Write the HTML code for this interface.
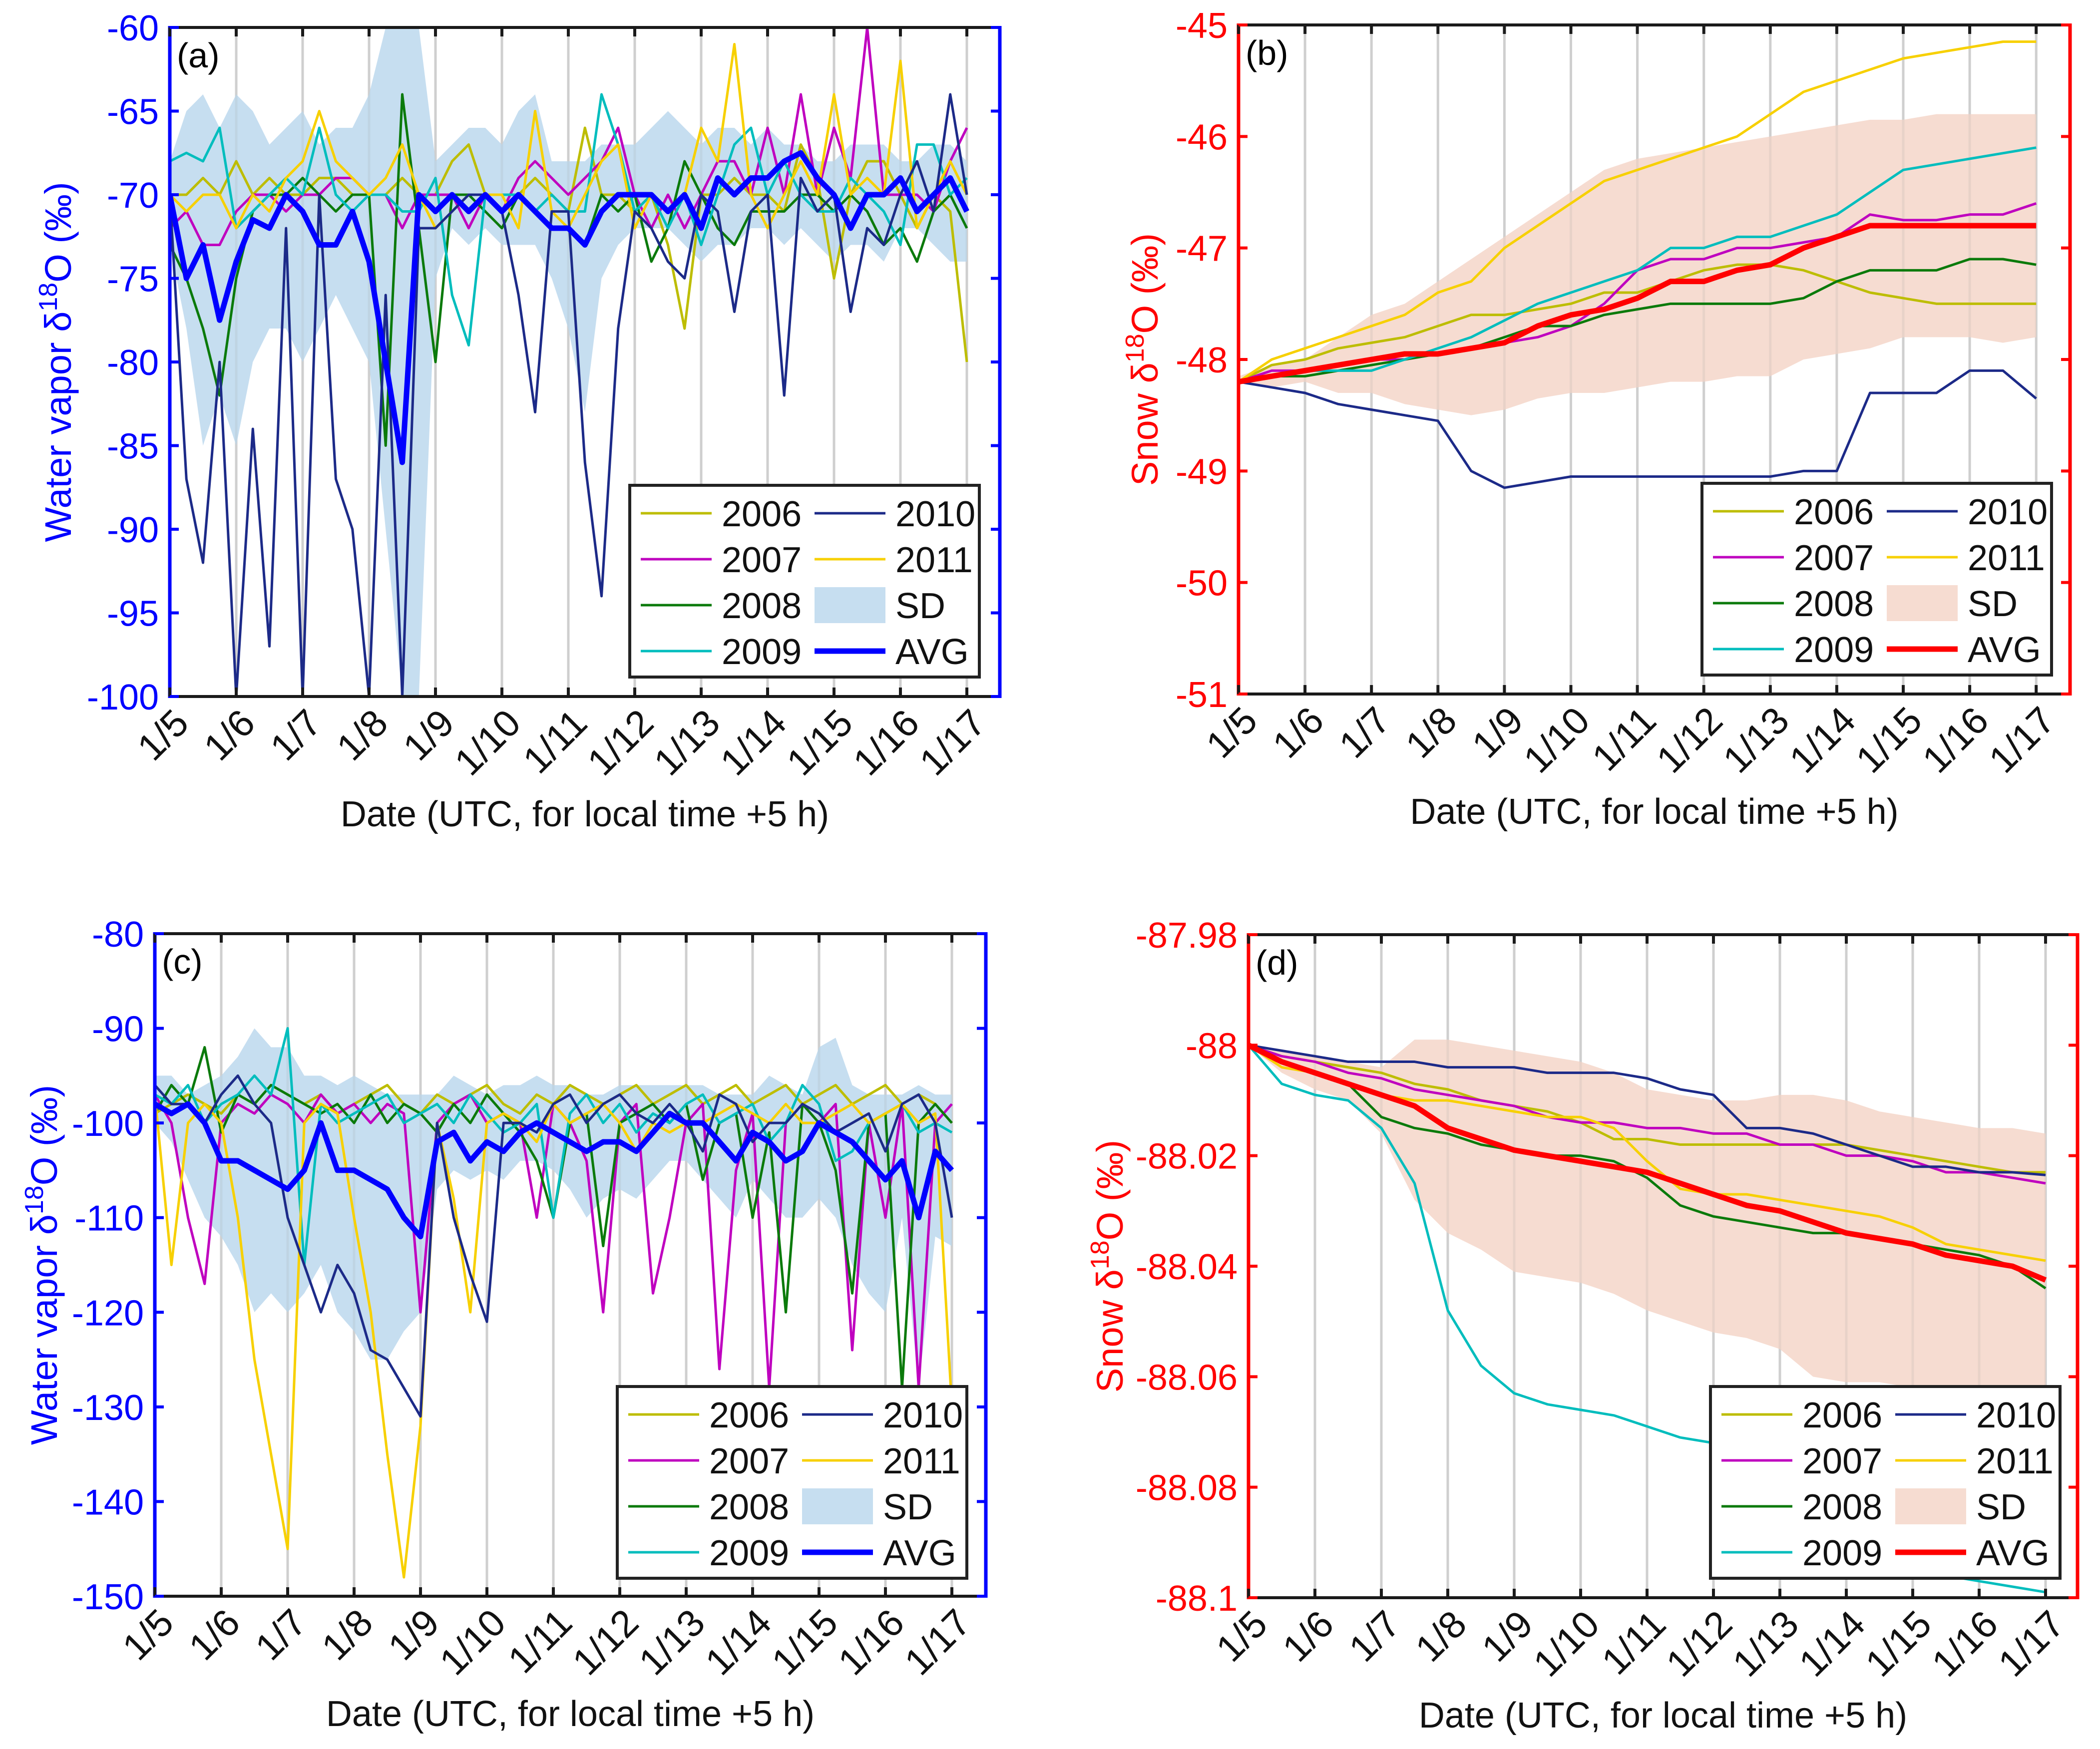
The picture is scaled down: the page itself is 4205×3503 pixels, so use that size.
<!DOCTYPE html>
<html><head><meta charset="utf-8"><style>
html,body{margin:0;padding:0;background:#fff;}
svg{display:block;font-family:"Liberation Sans",Arial,sans-serif;}
</style></head><body>
<svg id="fig" width="4205" height="3503" viewBox="0 0 4205 3503" xmlns="http://www.w3.org/2000/svg"></svg>
<script>
// ---------- data (days since 1/5) ----------
const dayLabels=["1/5","1/6","1/7","1/8","1/9","1/10","1/11","1/12","1/13","1/14","1/15","1/16","1/17"];
const legendYears=["2006","2007","2008","2009","2010","2011"];
// panel a (quarter-day samples)
const aY2006=[-70,-70,-69,-70,-68,-70,-69,-70,-70,-69,-69,-70,-70,-70,-69,-70,-70,-68,-67,-70,-70,-70,-69,-70,-71,-66,-70,-70,-71,-70,-73,-78,-70,-70,-69,-70,-70,-71,-67,-69,-75,-70,-68,-68,-70,-72,-70,-71,-80];
const aY2007=[-72,-71,-73,-73,-71,-70,-70,-71,-70,-70,-69,-69,-70,-70,-72,-70,-70,-70,-72,-70,-71,-69,-68,-69,-70,-69,-68,-66,-70,-72,-70,-72,-70,-68,-68,-70,-66,-70,-64,-70,-66,-69,-60,-70,-70,-70,-71,-68,-66];
const aY2008=[-73,-75,-78,-82,-75,-71,-70,-70,-69,-70,-71,-70,-70,-85,-64,-72,-80,-70,-70,-71,-72,-70,-71,-72,-72,-73,-70,-71,-70,-74,-72,-68,-70,-72,-73,-71,-71,-71,-70,-70,-71,-70,-71,-73,-72,-74,-71,-70,-72];
const aY2009=[-68,-67.5,-68,-66,-72,-71,-70,-69,-70,-66,-70,-71,-70,-70,-71,-71,-69,-76,-79,-70,-70,-70,-71,-70,-71,-71,-64,-67,-71,-70,-72,-70,-73,-70,-67,-66,-70,-68,-70,-71,-71,-69,-70,-71,-73,-67,-67,-70,-69];
const aY2010=[-70,-87,-92,-80,-100,-84,-97,-72,-100,-70,-87,-90,-100,-76,-100,-72,-72,-71,-70,-70,-71,-76,-83,-71,-71,-86,-94,-78,-71,-72,-74,-75,-70,-71,-77,-71,-70,-82,-69,-71,-70,-77,-72,-73,-70,-68,-71,-64,-70];
const aY2011=[-70,-71,-70,-70,-72,-70,-71,-69,-68,-65,-68,-69,-70,-69,-67,-70,-72,-71,-70,-70,-70,-72,-65,-71,-72,-70,-68,-67,-72,-70,-71,-70,-66,-68,-61,-70,-72,-70,-68,-70,-64,-70,-69,-70,-62,-72,-70,-68,-70];
const aAvg=[-70,-75,-73,-77.5,-74,-71.5,-72,-70,-71,-73,-73,-71,-74,-80,-86,-70,-71,-70,-71,-70,-71,-70,-71,-72,-72,-73,-71,-70,-70,-70,-71,-70,-72,-69,-70,-69,-69,-68,-67.5,-69,-70,-72,-70,-70,-69,-71,-70,-69,-71];
const aSdHi=[-68,-65,-64,-66,-64,-65,-67,-66,-65,-67,-66,-66,-64,-60,-60,-60,-68,-67,-66,-66,-67,-65,-64,-68,-68,-68,-67,-67,-67,-66,-65,-66,-67,-66,-66,-67,-66,-67,-67,-68,-68,-67,-67,-67,-68,-68,-67,-67,-68];
const aSdLo=[-73,-78,-85,-82,-85,-80,-78,-78,-80,-78,-76,-78,-80,-90,-100,-100,-75,-72,-73,-72,-73,-73,-73,-75,-78,-83,-75,-73,-72,-72,-72,-73,-74,-73,-73,-72,-72,-73,-72,-73,-74,-73,-73,-74,-72,-72,-73,-74,-74];
// panel c (quarter-day samples)
const cY2006=[-99,-98,-97,-98,-99,-97,-98,-96,-97,-98,-97,-99,-98,-97,-96,-98,-99,-97,-98,-97,-96,-98,-99,-97,-98,-96,-97,-98,-97,-96,-98,-97,-96,-98,-97,-96,-98,-97,-96,-98,-97,-96,-98,-97,-96,-98,-97,-98,-100];
const cY2007=[-97,-100,-110,-117,-100,-98,-99,-97,-98,-100,-97,-99,-98,-100,-98,-99,-120,-100,-98,-97,-100,-99,-100,-110,-98,-100,-104,-120,-100,-98,-118,-110,-100,-98,-126,-105,-99,-128,-100,-98,-100,-98,-124,-100,-110,-98,-128,-100,-98];
const cY2008=[-99,-96,-98,-92,-101,-97,-98,-96,-97,-98,-99,-98,-100,-97,-100,-98,-99,-101,-98,-100,-97,-99,-101,-104,-110,-100,-99,-113,-100,-99,-98,-100,-98,-106,-100,-99,-110,-101,-120,-98,-100,-105,-118,-100,-99,-128,-100,-98,-100];
const cY2009=[-97,-98,-96,-100,-98,-97,-95,-97,-90,-115,-98,-100,-99,-98,-97,-100,-99,-98,-100,-97,-99,-101,-100,-98,-110,-99,-97,-100,-98,-101,-99,-100,-98,-97,-100,-99,-98,-102,-100,-96,-98,-104,-103,-100,-99,-98,-101,-100,-101];
const cY2010=[-96,-98,-98,-100,-97,-95,-98,-100,-110,-115,-120,-115,-118,-124,-125,-128,-131,-100,-110,-116,-121,-100,-100,-101,-98,-97,-100,-98,-97,-99,-100,-98,-100,-103,-97,-98,-102,-100,-100,-98,-99,-101,-100,-99,-103,-98,-97,-100,-110];
const cY2011=[-97,-115,-100,-98,-100,-110,-125,-135,-145,-100,-98,-99,-110,-120,-135,-148,-132,-100,-108,-120,-100,-99,-100,-102,-98,-100,-99,-98,-100,-103,-100,-101,-100,-100,-99,-98,-99,-100,-98,-100,-100,-99,-98,-100,-99,-98,-100,-99,-130];
const cAvg=[-98,-99,-98,-100,-104,-104,-105,-106,-107,-105,-100,-105,-105,-106,-107,-110,-112,-102,-101,-104,-102,-103,-101,-100,-101,-102,-103,-102,-102,-103,-101,-99,-100,-100,-102,-104,-101,-102,-104,-103,-100,-101,-102,-104,-106,-104,-110,-103,-105];
const cSdHi=[-95,-95,-97,-96,-95,-93,-90,-92,-92,-95,-95,-96,-95,-96,-97,-97,-97,-97,-95,-96,-97,-96,-96,-95,-96,-96,-97,-97,-96,-96,-96,-96,-96,-96,-97,-97,-97,-95,-96,-97,-92,-91,-96,-97,-97,-97,-96,-97,-97];
const cSdLo=[-100,-102,-106,-110,-112,-115,-120,-118,-120,-118,-115,-120,-122,-125,-125,-122,-120,-107,-105,-106,-105,-106,-104,-104,-105,-107,-110,-108,-107,-108,-106,-104,-104,-106,-108,-110,-106,-108,-110,-110,-108,-110,-115,-118,-120,-110,-128,-112,-113];
// panel b (half-day samples)
const bY2006=[-48.2,-48.05,-48.0,-47.9,-47.85,-47.8,-47.7,-47.6,-47.6,-47.55,-47.5,-47.4,-47.4,-47.3,-47.2,-47.15,-47.15,-47.2,-47.3,-47.4,-47.45,-47.5,-47.5,-47.5,-47.5];
const bY2007=[-48.2,-48.1,-48.1,-48.05,-48.0,-48.0,-47.95,-47.9,-47.85,-47.8,-47.7,-47.5,-47.2,-47.1,-47.1,-47.0,-47.0,-46.95,-46.9,-46.7,-46.75,-46.75,-46.7,-46.7,-46.6];
const bY2008=[-48.2,-48.15,-48.15,-48.1,-48.05,-48.0,-47.95,-47.9,-47.8,-47.7,-47.7,-47.6,-47.55,-47.5,-47.5,-47.5,-47.5,-47.45,-47.3,-47.2,-47.2,-47.2,-47.1,-47.1,-47.15];
const bY2009=[-48.2,-48.15,-48.1,-48.1,-48.1,-48.0,-47.9,-47.8,-47.65,-47.5,-47.4,-47.3,-47.2,-47.0,-47.0,-46.9,-46.9,-46.8,-46.7,-46.5,-46.3,-46.25,-46.2,-46.15,-46.1];
const bY2010=[-48.2,-48.25,-48.3,-48.4,-48.45,-48.5,-48.55,-49.0,-49.15,-49.1,-49.05,-49.05,-49.05,-49.05,-49.05,-49.05,-49.05,-49.0,-49.0,-48.3,-48.3,-48.3,-48.1,-48.1,-48.35];
const bY2011=[-48.2,-48.0,-47.9,-47.8,-47.7,-47.6,-47.4,-47.3,-47.0,-46.8,-46.6,-46.4,-46.3,-46.2,-46.1,-46.0,-45.8,-45.6,-45.5,-45.4,-45.3,-45.25,-45.2,-45.15,-45.15];
const bAvg=[-48.2,-48.15,-48.1,-48.05,-48.0,-47.95,-47.95,-47.9,-47.85,-47.7,-47.6,-47.55,-47.45,-47.3,-47.3,-47.2,-47.15,-47.0,-46.9,-46.8,-46.8,-46.8,-46.8,-46.8,-46.8];
const bSdHi=[-48.15,-48.05,-48.0,-47.8,-47.6,-47.5,-47.3,-47.1,-46.9,-46.7,-46.5,-46.3,-46.2,-46.15,-46.1,-46.05,-46.0,-45.95,-45.9,-45.85,-45.85,-45.8,-45.8,-45.8,-45.8];
const bSdLo=[-48.2,-48.25,-48.2,-48.3,-48.3,-48.4,-48.45,-48.5,-48.45,-48.35,-48.3,-48.3,-48.25,-48.2,-48.2,-48.15,-48.15,-48.0,-47.95,-47.9,-47.8,-47.8,-47.8,-47.85,-47.8];
// panel d (half-day samples)
const dY2006=[-88,-88.002,-88.003,-88.004,-88.005,-88.007,-88.008,-88.010,-88.011,-88.012,-88.014,-88.017,-88.017,-88.018,-88.018,-88.018,-88.018,-88.018,-88.018,-88.019,-88.020,-88.021,-88.022,-88.023,-88.023];
const dY2007=[-88,-88.002,-88.003,-88.005,-88.006,-88.008,-88.009,-88.010,-88.011,-88.013,-88.014,-88.014,-88.015,-88.015,-88.016,-88.016,-88.018,-88.018,-88.020,-88.020,-88.021,-88.023,-88.023,-88.024,-88.025];
const dY2008=[-88,-88.003,-88.005,-88.007,-88.013,-88.015,-88.016,-88.018,-88.019,-88.020,-88.020,-88.021,-88.024,-88.029,-88.031,-88.032,-88.033,-88.034,-88.034,-88.035,-88.036,-88.037,-88.038,-88.040,-88.044];
const dY2009=[-88,-88.007,-88.009,-88.010,-88.015,-88.025,-88.048,-88.058,-88.063,-88.065,-88.066,-88.067,-88.069,-88.071,-88.072,-88.074,-88.075,-88.078,-88.085,-88.09,-88.095,-88.096,-88.097,-88.098,-88.099];
const dY2010=[-88,-88.001,-88.002,-88.003,-88.003,-88.003,-88.004,-88.004,-88.004,-88.005,-88.005,-88.005,-88.006,-88.008,-88.009,-88.015,-88.015,-88.016,-88.018,-88.020,-88.022,-88.022,-88.023,-88.023,-88.0235];
const dY2011=[-88,-88.004,-88.005,-88.007,-88.009,-88.010,-88.010,-88.011,-88.012,-88.013,-88.013,-88.015,-88.021,-88.026,-88.027,-88.027,-88.028,-88.029,-88.030,-88.031,-88.033,-88.036,-88.037,-88.038,-88.039];
const dAvg=[-88,-88.003,-88.005,-88.007,-88.009,-88.011,-88.015,-88.017,-88.019,-88.020,-88.021,-88.022,-88.023,-88.025,-88.027,-88.029,-88.030,-88.032,-88.034,-88.035,-88.036,-88.038,-88.039,-88.040,-88.0425];
const dSdHi=[-88,-88.001,-88.002,-88.003,-88.004,-87.999,-87.999,-88.0,-88.001,-88.002,-88.003,-88.005,-88.008,-88.009,-88.010,-88.010,-88.009,-88.009,-88.010,-88.012,-88.013,-88.014,-88.015,-88.015,-88.016];
const dSdLo=[-88,-88.005,-88.008,-88.010,-88.016,-88.028,-88.034,-88.037,-88.041,-88.042,-88.043,-88.045,-88.048,-88.050,-88.052,-88.053,-88.055,-88.060,-88.061,-88.061,-88.062,-88.062,-88.062,-88.062,-88.062];
const aTicks=[-60,-65,-70,-75,-80,-85,-90,-95,-100];
const bTicks=[-45,-46,-47,-48,-49,-50,-51];
const cTicks=[-80,-90,-100,-110,-120,-130,-140,-150];
const dTicks=[-87.98,-88,-88.02,-88.04,-88.06,-88.08,-88.1];
const dTickLabels=["-87.98","-88","-88.02","-88.04","-88.06","-88.08","-88.1"];

const colors={"2006":"#bdbd00","2007":"#bf00bf","2008":"#0b7a0b","2009":"#00bdbd","2010":"#1c2a88","2011":"#f7d000"};
const NS="http://www.w3.org/2000/svg";
const svg=document.getElementById('fig');
function el(tag,attrs,parent){const e=document.createElementNS(NS,tag);for(const k in attrs)e.setAttribute(k,attrs[k]);(parent||svg).appendChild(e);return e;}

function panel(cfg){
  const g=el('g',{});
  
  
  const L=cfg.L,R=cfg.R,T=cfg.T,B=cfg.B,dx=cfg.dayPx;
  const xs=d=>L+d*dx;
  const ys=v=>T+(cfg.ymax-v)/(cfg.ymax-cfg.ymin)*(B-T);
  const cid='clip-'+cfg.id;
  const cp=el('clipPath',{id:cid},g);el('rect',{x:L,y:T,width:R-L,height:B-T},cp);
  for(let i=1;i<dayLabels.length;i++){
    const gl=el('line',{x1:xs(i),x2:xs(i),y1:T,y2:B,stroke:'#d9d9d9','stroke-width':5},g);
    
    
  }
  const plot=el('g',{'clip-path':'url(#'+cid+')'},g);
  const n=cfg.sdHi.length;
  let pts=[];
  for(let i=0;i<n;i++)pts.push(xs(i*12/(n-1))+','+ys(cfg.sdHi[i]));
  for(let i=n-1;i>=0;i--)pts.push(xs(i*12/(n-1))+','+ys(cfg.sdLo[i]));
  const sd=el('polygon',{points:pts.join(' '),fill:cfg.sdColor,stroke:'none'},plot);
  
  
  for(let i=1;i<dayLabels.length;i++){el('line',{x1:xs(i),x2:xs(i),y1:T,y2:B,stroke:'#999','stroke-opacity':0.15,'stroke-width':5},plot);}
  const draw=(arr,color,w,name)=>{
    const m=arr.length;const p=[];
    for(let i=0;i<m;i++)p.push(xs(i*12/(m-1))+','+ys(arr[i]));
    const pl=el('polyline',{points:p.join(' '),fill:'none',stroke:color,'stroke-width':w,'stroke-linejoin':'round'},plot);
    
    
  };
  cfg.order.forEach(y=>draw(cfg.series[y],colors[y],5,'series-'+y));
  draw(cfg.avg,cfg.avgColor,11,'series-avg');
  el('line',{x1:L,x2:R,y1:T,y2:T,stroke:'#1a1a1a','stroke-width':6},g);
  el('line',{x1:L,x2:R,y1:B,y2:B,stroke:'#1a1a1a','stroke-width':6},g);
  const la=el('line',{x1:L,x2:L,y1:T-3,y2:B+3,stroke:cfg.axColor,'stroke-width':7},g);
  
  
  el('line',{x1:R,x2:R,y1:T-3,y2:B+3,stroke:cfg.axColor,'stroke-width':7},g);
  dayLabels.forEach((lab,i)=>{
    const x=xs(i);
    el('line',{x1:x,x2:x,y1:B,y2:B-18,stroke:'#1a1a1a','stroke-width':6},g);
    el('line',{x1:x,x2:x,y1:T,y2:T+18,stroke:'#1a1a1a','stroke-width':6},g);
    const ax=x+42,ay=B+58;
    const t=el('text',{x:ax,y:ay,'font-size':76,'text-anchor':'end',transform:'rotate(-45 '+ax+' '+ay+')',fill:'#111'},g);
    t.textContent=lab;
    
    
  });
  cfg.ticks.forEach((v,i)=>{
    const y=ys(v);
    el('line',{x1:L,x2:L+18,y1:y,y2:y,stroke:cfg.axColor,'stroke-width':6},g);
    el('line',{x1:R,x2:R-18,y1:y,y2:y,stroke:cfg.axColor,'stroke-width':6},g);
    const t=el('text',{x:L-22,y:y+26,'font-size':72,'text-anchor':'end',fill:cfg.axColor},g);
    t.textContent=cfg.tickLabels?cfg.tickLabels[i]:String(v);
    
    
  });
  const pl=el('text',{x:L+14,y:T+80,'font-size':70,fill:'#000'},g);
  pl.textContent='('+cfg.id+')';
  
  
  const yt=el('text',{x:cfg.ytX,y:(T+B)/2,'font-size':74,'text-anchor':'middle',fill:cfg.axColor,transform:'rotate(-90 '+cfg.ytX+' '+(T+B)/2+')'},g);
  yt.innerHTML=cfg.ytitle+' δ<tspan dy="-28" font-size="52">18</tspan><tspan dy="28">O (‰)</tspan>';
  
  
  const xt=el('text',{x:(L+R)/2,y:B+260,'font-size':72,'text-anchor':'middle',fill:'#111'},g);
  xt.textContent='Date (UTC, for local time +5 h)';
  
  
  const lx=cfg.legX,ly=cfg.legY;
  const lg=el('g',{},g);
  
  
  el('rect',{x:lx,y:ly,width:700,height:384,fill:'#fff',stroke:'#222','stroke-width':6},lg);
  const entries=[["2006",0,0],["2007",0,1],["2008",0,2],["2009",0,3],["2010",1,0],["2011",1,1],["SD",1,2],["AVG",1,3]];
  entries.forEach(([lab,c,r])=>{
    const cx=lx+(c?370:22),cy=ly+56+r*92;
    const eg=el('g',{},lg);
    
    
    if(lab==='SD')el('rect',{x:cx,y:cy-36,width:142,height:72,fill:cfg.sdColor},eg);
    else el('line',{x1:cx,x2:cx+142,y1:cy,y2:cy,stroke:lab==='AVG'?cfg.avgColor:colors[lab],'stroke-width':lab==='AVG'?11:5},eg);
    const t=el('text',{x:cx+162,y:cy+26,'font-size':72,fill:'#111'},eg);
    t.textContent=lab;
  });
}
panel({id:'a',L:340,R:2002,T:55,B:1395,dayPx:133,ymin:-100,ymax:-60,ticks:aTicks,axColor:'#0000ff',sdColor:'#c6def0',avgColor:'#0000ff',
  series:{"2006":aY2006,"2007":aY2007,"2008":aY2008,"2009":aY2009,"2010":aY2010,"2011":aY2011},order:["2006","2007","2008","2009","2011","2010"],
  avg:aAvg,sdHi:aSdHi,sdLo:aSdLo,ytitle:'Water vapor',ytX:142,legX:1261,legY:972});
panel({id:'b',L:2480,R:4145,T:50,B:1390,dayPx:133.1,ymin:-51,ymax:-45,ticks:bTicks,axColor:'#ff0000',sdColor:'#f6dcd1',avgColor:'#ff0000',
  series:{"2006":bY2006,"2007":bY2007,"2008":bY2008,"2009":bY2009,"2010":bY2010,"2011":bY2011},order:["2006","2007","2008","2009","2010","2011"],
  avg:bAvg,sdHi:bSdHi,sdLo:bSdLo,ytitle:'Snow',ytX:2318,legX:3408,legY:968});
panel({id:'c',L:310,R:1974,T:1870,B:3197,dayPx:133,ymin:-150,ymax:-80,ticks:cTicks,axColor:'#0000ff',sdColor:'#c6def0',avgColor:'#0000ff',
  series:{"2006":cY2006,"2007":cY2007,"2008":cY2008,"2009":cY2009,"2010":cY2010,"2011":cY2011},order:["2006","2007","2008","2009","2011","2010"],
  avg:cAvg,sdHi:cSdHi,sdLo:cSdLo,ytitle:'Water vapor',ytX:114,legX:1236,legY:2777});
panel({id:'d',L:2500,R:4160,T:1872,B:3200,dayPx:133,ymin:-88.1,ymax:-87.98,ticks:dTicks,tickLabels:dTickLabels,axColor:'#ff0000',sdColor:'#f6dcd1',avgColor:'#ff0000',
  series:{"2006":dY2006,"2007":dY2007,"2008":dY2008,"2009":dY2009,"2010":dY2010,"2011":dY2011},order:["2006","2007","2008","2009","2010","2011"],
  avg:dAvg,sdHi:dSdHi,sdLo:dSdLo,ytitle:'Snow',ytX:2248,legX:3425,legY:2777});
</script>
</body></html>
